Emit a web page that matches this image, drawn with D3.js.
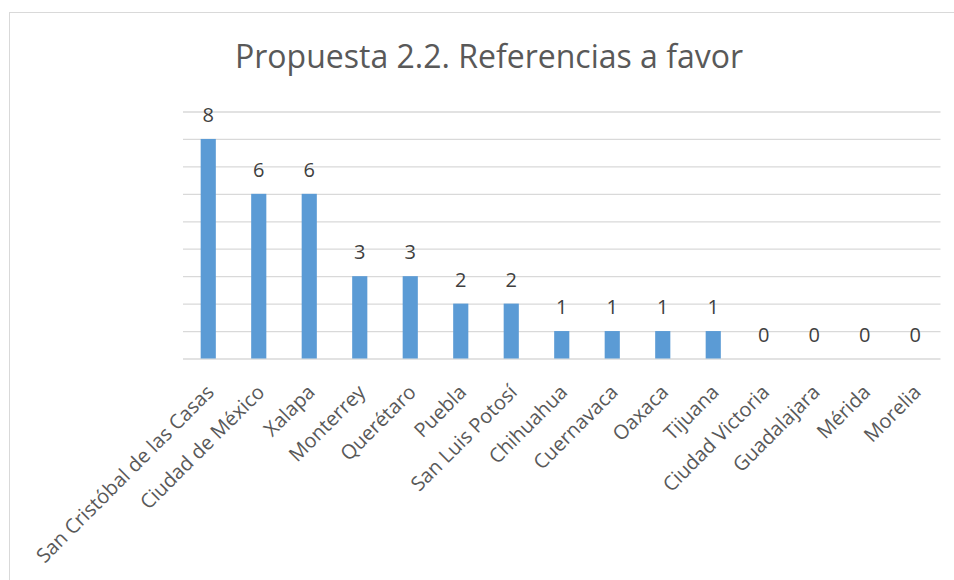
<!DOCTYPE html>
<html>
<head>
<meta charset="utf-8">
<script src="https://cdn.jsdelivr.net/npm/d3@7"></script>
<style>
  html, body { margin: 0; padding: 0; background: #fff; }
  svg { display: block; }
</style>
</head>
<body>
<div id="viz"></div>
<script>
// datos del gráfico
const categories = ["San Cristóbal de las Casas", "Ciudad de México", "Xalapa", "Monterrey",
  "Querétaro", "Puebla", "San Luis Potosí", "Chihuahua", "Cuernavaca", "Oaxaca", "Tijuana",
  "Ciudad Victoria", "Guadalajara", "Mérida", "Morelia"];
const values = [8, 6, 6, 3, 3, 2, 2, 1, 1, 1, 1, 0, 0, 0, 0];
const gridTicks = [0, 1, 2, 3, 4, 5, 6, 7, 8, 9];
const title = "Propuesta 2.2. Referencias a favor";

(function(){
  const W = 954, H = 580;
  const plot = { left: 183, right: 940.5, top: 111.5, bottom: 358.5 };
  const font = "'Open Sans', 'Noto Sans', sans-serif";

  const svg = d3.select("#viz").append("svg")
    .attr("width", W).attr("height", H);

  // marco del gráfico
  svg.append("rect")
    .attr("x", 9.5).attr("y", 12.5)
    .attr("width", W + 20).attr("height", H + 20)
    .attr("fill", "#fff")
    .attr("stroke", "#d9d9d9")
    .attr("stroke-width", 1);

  // título
  svg.append("text")
    .attr("x", 489).attr("y", 68)
    .attr("text-anchor", "middle")
    .attr("font-family", font)
    .attr("font-size", 32)
    .attr("fill", "#595959")
    .text(title);

  // escalas
  const x = d3.scaleBand()
    .domain(categories)
    .range([plot.left, plot.right])
    .paddingInner(0.7)
    .paddingOuter(0.35);
  const y = d3.scaleLinear()
    .domain([0, 9])
    .range([plot.bottom, plot.top]);

  // líneas de la cuadrícula
  svg.append("g")
    .attr("transform", `translate(${plot.left},0)`)
    .call(d3.axisLeft(y).tickValues(gridTicks).tickSize(-(plot.right - plot.left)).tickFormat(""))
    .call(g => g.select(".domain").remove())
    .call(g => g.selectAll(".tick line").attr("stroke", "#d9d9d9").attr("stroke-width", 1.3));

  // barras
  svg.selectAll("rect.bar")
    .data(values)
    .enter()
    .append("rect")
      .attr("class", "bar")
      .attr("x", (d, i) => x(categories[i]))
      .attr("y", d => y(d))
      .attr("width", x.bandwidth())
      .attr("height", d => y(0) - y(d))
      .attr("fill", "#5b9bd5");

  // etiquetas de datos
  svg.selectAll("text.val")
    .data(values)
    .enter()
    .append("text")
      .attr("class", "val")
      .attr("x", (d, i) => x(categories[i]) + x.bandwidth() / 2)
      .attr("y", d => y(d) - 17)
      .attr("text-anchor", "middle")
      .attr("font-family", font)
      .attr("font-size", 20)
      .attr("fill", "#404040")
      .text(d => d);

  // etiquetas del eje X
  svg.append("g")
    .attr("transform", `translate(0,${plot.bottom})`)
    .call(d3.axisBottom(x).tickSize(0).tickPadding(0))
    .call(g => g.select(".domain").remove())
    .call(g => g.selectAll(".tick text")
      .attr("font-family", font)
      .attr("font-size", 20)
      .attr("fill", "#595959")
      .attr("text-anchor", "end")
      .attr("dy", "0.35em")
      .attr("transform", "translate(2,30) rotate(-45)"));
})();
</script>
</body>
</html>
